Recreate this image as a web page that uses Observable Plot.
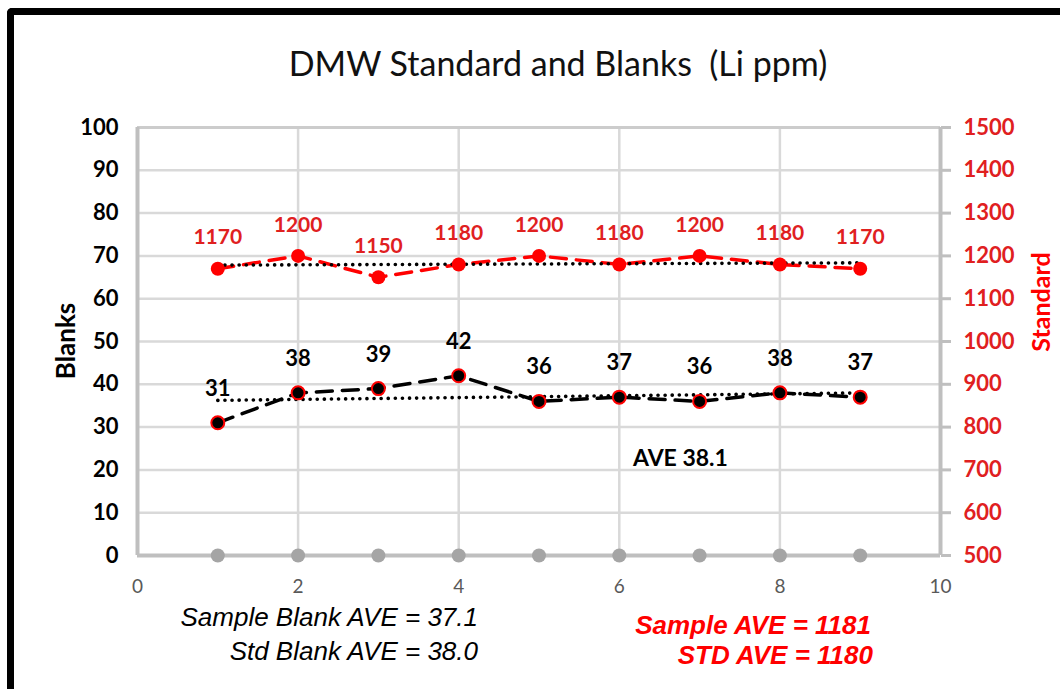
<!DOCTYPE html>
<html><head><meta charset="utf-8">
<script src="https://cdn.jsdelivr.net/npm/d3@7"></script>
<script src="https://cdn.jsdelivr.net/npm/@observablehq/plot@0.6"></script>
<style>
body{margin:0;background:#fff;}
#wrap{position:relative;width:1060px;height:689px;overflow:hidden;background:#fff;font-family:Lato,"Open Sans",sans-serif;}
#frame{position:absolute;left:7px;top:8px;width:1100px;height:800px;border-top:7px solid #000;border-left:7px solid #000;border-top-left-radius:5px;}
#chart{position:absolute;left:0;top:0;}
.t{position:absolute;white-space:nowrap;line-height:1;}
#title{left:0;width:1116px;text-align:center;top:46px;font-size:34px;color:#111;}
#ylab{left:65px;top:341px;transform:translate(-50%,-50%) rotate(-90deg);font-size:26px;font-weight:bold;color:#000;}
#y2lab{left:1040px;top:302px;transform:translate(-50%,-50%) rotate(-90deg);font-size:25px;font-weight:bold;color:#ff0000;}
#ave{left:633px;top:446px;font-size:23px;font-weight:bold;color:#000;}
.note{font-family:"Liberation Sans",Arial,sans-serif;font-style:italic;font-size:26px;text-align:right;}
#n1{right:582px;top:604px;color:#000;}
#n2{right:582px;top:638px;color:#000;}
#n3{right:189px;top:612px;color:#ff0000;font-weight:bold;}
#n4{right:187px;top:642px;color:#ff0000;font-weight:bold;}
</style></head><body>
<div id="wrap">
  <div id="frame"></div>
  <div id="chart"></div>
  <div class="t" id="title">DMW Standard and Blanks&nbsp;&nbsp;(Li ppm)</div>
  <div class="t" id="ylab">Blanks</div>
  <div class="t" id="y2lab">Standard</div>
  <div class="t" id="ave">AVE 38.1</div>
  <div class="t note" id="n1">Sample Blank AVE = 37.1</div>
  <div class="t note" id="n2">Std Blank AVE = 38.0</div>
  <div class="t note" id="n3">Sample AVE = 1181</div>
  <div class="t note" id="n4">STD AVE = 1180</div>
</div>
<script>
// ---- data ----
const runs = [1, 2, 3, 4, 5, 6, 7, 8, 9];
const blanks = [31, 38, 39, 42, 36, 37, 36, 38, 37];
const standard = [1170, 1200, 1150, 1180, 1200, 1180, 1200, 1180, 1170];
const baseline = [0, 0, 0, 0, 0, 0, 0, 0, 0];
const leftTicks = [0, 10, 20, 30, 40, 50, 60, 70, 80, 90, 100];
const rightTicks = [500, 600, 700, 800, 900, 1000, 1100, 1200, 1300, 1400, 1500];
const xTicks = [0, 2, 4, 6, 8, 10];

// secondary axis mapping (right 500..1500 onto left 0..100)
const rMin = rightTicks[0], rMax = rightTicks[rightTicks.length - 1];
const lMin = leftTicks[0], lMax = leftTicks[leftTicks.length - 1];
const toLeft = v => lMin + (v - rMin) * (lMax - lMin) / (rMax - rMin);
const toRight = v => rMin + (v - lMin) * (rMax - rMin) / (lMax - lMin);

const data = runs.map((r, i) => ({run: r, blank: blanks[i], std: standard[i], stdY: toLeft(standard[i]), base: baseline[i]}));

const RED = "#ff0000", RED_T = "#e0201f", GRID = "#d9d9d9", AXIS = "#bfbfbf";
const dotted = {strokeDasharray: "0.1,7", strokeLinecap: "round", strokeWidth: 3.6};

const chart = Plot.plot({
  width: 1060, height: 689,
  marginLeft: 137, marginRight: 120, marginTop: 127, marginBottom: 134,
  x: {domain: [xTicks[0], xTicks[xTicks.length - 1]]},
  y: {domain: [lMin, lMax]},
  style: {fontFamily: "Lato, 'Open Sans', sans-serif", background: "transparent", overflow: "visible"},
  marks: [
    Plot.gridY(leftTicks, {stroke: GRID, strokeOpacity: 1, strokeWidth: 2.5}),
    Plot.gridX(xTicks, {stroke: GRID, strokeOpacity: 1, strokeWidth: 2.5}),
    Plot.ruleY([lMax], {stroke: "#cccccc", strokeWidth: 3}),
    Plot.ruleX([xTicks[0], xTicks[xTicks.length - 1]], {stroke: AXIS, strokeWidth: 4}),
    Plot.ruleY([lMin], {stroke: AXIS, strokeWidth: 4}),
    Plot.axisY(leftTicks, {anchor: "left", tickSize: 0, tickPadding: 19, fontSize: 22, fontWeight: "bold", color: "#000", label: null}),
    Plot.axisY(leftTicks, {anchor: "right", tickSize: 10, tickPadding: 13, tickFormat: d => String(toRight(d)), fontSize: 22, fontWeight: "bold", color: RED_T, stroke: AXIS, strokeWidth: 3, label: null}),
    Plot.axisX(xTicks, {anchor: "bottom", tickSize: 0, tickPadding: 24, fontSize: 19, color: "#595959", label: null}),
    // series lines
    Plot.line(data, {x: "run", y: "blank", stroke: "#000", strokeWidth: 3.5, strokeDasharray: "16,10"}),
    Plot.line(data, {x: "run", y: "stdY", stroke: RED, strokeWidth: 3.5, strokeDasharray: "16,10"}),
    // trend lines
    Plot.linearRegressionY(data, {x: "run", y: "blank", stroke: "#000", ci: 0, ...dotted}),
    Plot.linearRegressionY(data, {x: "run", y: "stdY", stroke: "#000", ci: 0, ...dotted}),
    // markers
    Plot.dot(data, {x: "run", y: "base", r: 7, fill: "#a5a5a5", stroke: "none"}),
    Plot.dot(data, {x: "run", y: "stdY", r: 7, fill: RED, stroke: "none"}),
    Plot.dot(data, {x: "run", y: "blank", r: 6.5, fill: "#000", stroke: RED, strokeWidth: 2}),
    // data labels
    Plot.text(data, {x: "run", y: "blank", text: d => String(d.blank), dy: -34, fontSize: 22, fontWeight: "bold", fill: "#000"}),
    Plot.text(data, {x: "run", y: "stdY", text: d => String(d.std), dy: -31, fontSize: 21, fontWeight: "bold", fill: RED_T})
  ]
});
document.getElementById("chart").appendChild(chart);
</script>
</body></html>
